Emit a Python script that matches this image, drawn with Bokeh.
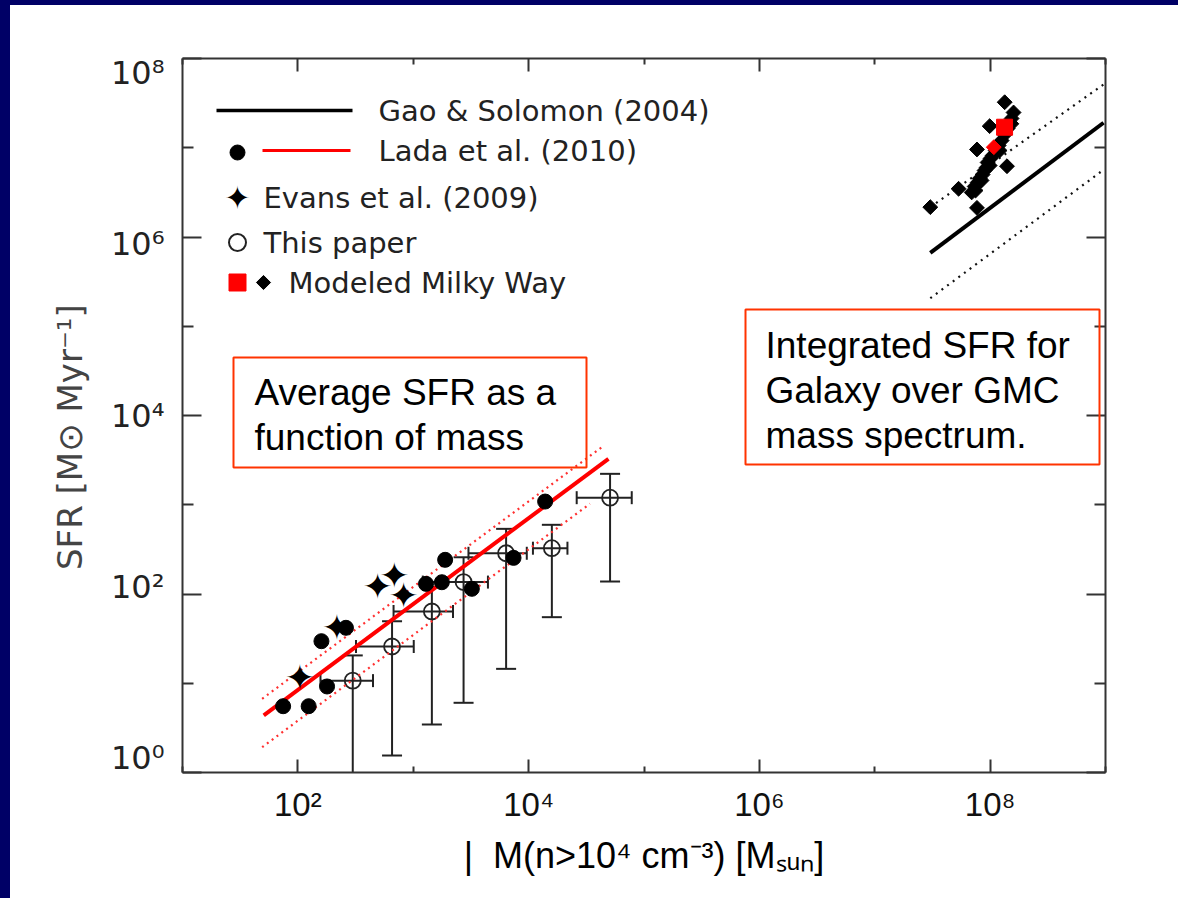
import numpy as np
from bokeh.plotting import figure
from bokeh.models import (LogAxis, FixedTicker, Range1d, Label, BoxAnnotation,
                          CustomJSTickFormatter, LogScale)
from bokeh.embed import file_html
from bokeh.resources import INLINE
from bokeh.core.properties import value

# ---------------- data ----------------
# Lada et al. (2010) clouds: mass [Msun], SFR [Msun/Myr]
lada_mass = [74.5, 124, 179, 160, 261, 1290, 1770, 1890, 3220, 7400, 13900]
lada_sfr = [5.53, 5.53, 9.2, 29.6, 41.8, 130, 135.5, 241.5, 114.3, 254, 1086]

# Evans et al. (2009)
evans_mass = [104, 218, 491, 684, 824]
evans_sfr = [11.7, 41.8, 122.5, 161, 96.2]

# This paper (with error bars)
tp_mass = [299, 655, 1450, 2730, 6380, 15900, 50800]
tp_mass_lo = [157, 319, 675, 1210, 3010, 10900, 26100]
tp_mass_hi = [448, 1010, 2210, 4440, 9640, 21700, 78300]
tp_sfr = [10.7, 25.8, 63.7, 136, 286, 326, 1200]
tp_sfr_lo = [0.5, 1.55, 3.45, 6.04, 14.5, 55.0, 138]
tp_sfr_hi = [20.5, 49.5, 120, 258, 537, 596, 2220]

# Lada relation and scatter (end points)
lada_fit_mass = [50.6, 49200]
lada_fit_sfr = [4.36, 3273]
lada_up_mass = [49.0, 45100]
lada_up_sfr = [6.70, 4613]
lada_dn_mass = [49.0, 34000]
lada_dn_sfr = [1.92, 1026]

# Gao & Solomon (2004) relation and scatter
gs_mass = [3.03e7, 9.62e8]
gs_sfr = [6.65e5, 1.905e7]
gs_up_sfr = [2.16e6, 5.12e7]
gs_dn_sfr = [2.06e5, 5.66e6]

# Modeled Milky Way (black diamonds)
mw_mass = [3.03e7, 5.33e7, 7.69e7, 7.69e7, 9.91e7, 1.337e8, 1.40e8, 1.528e8,
           6.92e7, 7.35e7, 7.80e7, 8.11e7, 8.61e7, 8.95e7, 9.33e7, 8.43e7,
           9.51e7, 1.009e8, 1.052e8, 1.117e8, 1.186e8, 1.259e8, 1.337e8,
           1.419e8, 1.476e8, 1.535e8, 7.48e7, 9.91e7, 1.208e8, 1.596e8]
mw_sfr = [2.16e6, 3.47e6, 2.12e6, 9.57e6, 1.746e7, 3.236e7, 6.21e6, 1.854e7,
          3.16e6, 3.68e6, 4.08e6, 4.52e6, 5.01e6, 5.56e6, 6.01e6, 4.30e6,
          6.84e6, 7.59e6, 8.19e6, 9.31e6, 1.059e7, 1.205e7, 1.406e7,
          1.644e7, 1.919e7, 2.128e7, 3.32e6, 6.32e6, 9.31e6, 2.483e7]
# Modeled Milky Way (red)
mw_red_sq_mass = [1.334e8]
mw_red_sq_sfr = [1.698e7]
mw_red_dm_mass = [1.076e8]
mw_red_dm_sfr = [1.014e7]

x_major = [1e2, 1e4, 1e6, 1e8]
x_minor = [1e1, 1e3, 1e5, 1e7, 1e9]
y_major = [1e0, 1e2, 1e4, 1e6, 1e8]
y_minor = [1e1, 1e3, 1e5, 1e7]

legend_labels = ["Gao & Solomon (2004)", "Lada et al. (2010)", "Evans et al. (2009)",
                 "This paper", "Modeled Milky Way"]
box1_lines = ["Average SFR as a", "function of mass"]
box2_lines = ["Integrated SFR for", "Galaxy over GMC", "mass spectrum."]
x_title = "|\u00a0\u00a0M(n>10\u2074 cm\u207b\u00b3) [M\u209b\u1d64\u2099]"
y_title = "SFR [M\u2299 Myr\u207b\u00b9]\u00a0\u00a0\u00a0\u00a0"

# ---------------- layout ----------------
OFF_X, OFF_Y = 10, 5            # navy border (window px)
FL, FR, FT, FB = 182, 1105, 58, 772   # frame edges in window px
W, H = 1178, 898

# helpers turning page positions (annotations only) into data coordinates
def dx(px):
    return 10 ** (1 + 8.0 * (px - FL) / (FR - FL))

def dy(py):
    return 10 ** (8.0 * (FB - py) / (FB - FT))

# the figure's y tick labels sit slightly compressed toward the middle
LAB_TOP, LAB_BOT = 72.3, 757.7   # where the 10^8 and 10^0 labels sit
dec_per_px = 8.0 / (LAB_BOT - LAB_TOP)
lab_lo = 10 ** (-(FB - LAB_BOT) * dec_per_px)
lab_hi = 10 ** (8 + (LAB_TOP - FT) * dec_per_px)

p = figure(frame_width=FR - FL, frame_height=FB - FT,
           x_axis_type="log", y_axis_type="log",
           x_range=Range1d(1e1, 1e9), y_range=Range1d(1e0, 1e8),
           output_backend="svg", toolbar_location=None,
           min_border_left=FL - OFF_X, min_border_right=W - FR,
           min_border_top=FT - OFF_Y, min_border_bottom=H - FB - 4,
           background_fill_color="white", border_fill_color="white")
p.margin = (OFF_Y, 0, 0, OFF_X)
p.outline_line_color = None
p.xgrid.visible = False
p.ygrid.visible = False
p.extra_y_ranges = {"lab": Range1d(lab_lo, lab_hi)}
p.extra_y_scales = {"lab": LogScale()}

sup_code = """
const sup = {"0":"\u2070","1":"\u00b9","2":"\u00b2","3":"\u00b3","4":"\u2074","5":"\u2075",
             "6":"\u2076","7":"\u2077","8":"\u2078","9":"\u2079","-":"\u207b"};
const e = Math.round(Math.log10(tick));
return "10" + String(e).split("").map(c => sup[c]).join("");
"""

AX = "#333333"

def style_axis(ax, maj, mnr):
    ax.axis_line_color = AX
    ax.axis_line_width = 2
    ax.major_tick_line_color = AX
    ax.major_tick_line_width = 2
    ax.minor_tick_line_color = AX
    ax.minor_tick_line_width = 2
    ax.major_tick_in = maj
    ax.major_tick_out = 0
    ax.minor_tick_in = mnr
    ax.minor_tick_out = 0

def hide_labels(ax):
    ax.formatter = CustomJSTickFormatter(code="return '';")
    ax.major_label_standoff = 0
    ax.major_label_text_font_size = "1px"

xa = p.xaxis[0]
xa.ticker = FixedTicker(ticks=x_major, minor_ticks=x_minor)
xa.formatter = CustomJSTickFormatter(code=sup_code)
style_axis(xa, 13, 6)
xa.major_label_text_font = "Liberation Sans"
xa.major_label_text_font_size = "33px"
xa.major_label_text_color = "#111111"
xa.major_label_standoff = 13
xa.axis_label = x_title
xa.axis_label_text_font = "Liberation Sans"
xa.axis_label_text_font_size = "36px"
xa.axis_label_text_font_style = "normal"
xa.axis_label_text_color = "#000000"
xa.axis_label_standoff = 9

ya = p.yaxis[0]
ya.ticker = FixedTicker(ticks=y_major, minor_ticks=y_minor)
style_axis(ya, 19, 11)
hide_labels(ya)

# label-only axis on the left (tick labels + title)
yl = LogAxis(y_range_name="lab", ticker=FixedTicker(ticks=y_major, minor_ticks=[]),
             formatter=CustomJSTickFormatter(code=sup_code))
yl.axis_line_color = None
yl.major_tick_line_color = None
yl.minor_tick_line_color = None
yl.major_tick_in = 0
yl.major_tick_out = 0
yl.major_label_text_font = "DejaVu Sans"
yl.major_label_text_font_size = "32px"
yl.major_label_text_color = "#222222"
yl.major_label_standoff = 18
yl.axis_label = y_title
yl.axis_label_text_font = "DejaVu Sans"
yl.axis_label_text_font_size = "34px"
yl.axis_label_text_font_style = "normal"
yl.axis_label_text_color = "#444444"
yl.axis_label_standoff = 18
p.add_layout(yl, "left")

top = LogAxis(ticker=FixedTicker(ticks=x_major, minor_ticks=x_minor))
style_axis(top, 13, 6)
hide_labels(top)
p.add_layout(top, "above")

right = LogAxis(ticker=FixedTicker(ticks=y_major, minor_ticks=y_minor))
style_axis(right, 19, 11)
hide_labels(right)
p.add_layout(right, "right")

# ---------------- data glyphs ----------------
EB = "#222222"
# error bars for "This paper"
p.segment(x0=tp_mass, y0=tp_sfr_lo, x1=tp_mass, y1=tp_sfr_hi, line_color=EB, line_width=2)
p.segment(x0=tp_mass_lo, y0=tp_sfr, x1=tp_mass_hi, y1=tp_sfr, line_color=EB, line_width=2)
p.scatter(x=tp_mass, y=tp_sfr_hi, marker="dash", size=20, line_color=EB, line_width=2)
p.scatter(x=tp_mass, y=tp_sfr_lo, marker="dash", size=20, line_color=EB, line_width=2)
p.scatter(x=tp_mass_lo, y=tp_sfr, marker="dash", size=13, angle=np.pi / 2,
          line_color=EB, line_width=2)
p.scatter(x=tp_mass_hi, y=tp_sfr, marker="dash", size=13, angle=np.pi / 2,
          line_color=EB, line_width=2)
p.scatter(x=tp_mass, y=tp_sfr, marker="circle", size=16, fill_alpha=0,
          line_color=EB, line_width=1.8)

# Lada relation
p.line(lada_up_mass, lada_up_sfr, line_color="#ff3030", line_width=2.2, line_dash="2 4")
p.line(lada_dn_mass, lada_dn_sfr, line_color="#ff3030", line_width=2.2, line_dash="2 4")
p.line(lada_fit_mass, lada_fit_sfr, line_color="#ff0000", line_width=4)

# Gao & Solomon relation
p.line(gs_mass, gs_up_sfr, line_color="#111111", line_width=2.2, line_dash="2 5")
p.line(gs_mass, gs_dn_sfr, line_color="#111111", line_width=2.2, line_dash="2 5")
p.line(gs_mass, gs_sfr, line_color="#000000", line_width=4)

# Milky Way model
p.scatter(x=mw_mass, y=mw_sfr, marker="square", angle=np.pi / 4, size=10.5,
          fill_color="black", line_color="black")
p.scatter(x=mw_red_dm_mass, y=mw_red_dm_sfr, marker="square", angle=np.pi / 4, size=10.5,
          fill_color="#ff0000", line_color="#ff0000")
p.scatter(x=mw_red_sq_mass, y=mw_red_sq_sfr, marker="square", size=16,
          fill_color="#ff0000", line_color="#ff0000")

# Lada points and Evans points
p.scatter(x=lada_mass, y=lada_sfr, marker="circle", size=15,
          fill_color="black", line_color="black")
p.text(x=evans_mass, y=evans_sfr, text=["\u2726"] * len(evans_mass),
       text_font=value("DejaVu Sans"), text_font_size="36px",
       text_align="center", text_baseline="middle", text_color="black")

# ---------------- legend (drawn by hand) ----------------
LF = value("DejaVu Sans")
p.line([dx(216), dx(352)], [dy(110), dy(110)], line_color="black", line_width=3.5)
p.scatter(x=[dx(237)], y=[dy(152)], marker="circle", size=15,
          fill_color="black", line_color="black")
p.line([dx(262), dx(350)], [dy(150), dy(150)], line_color="#ff0000", line_width=3)
p.text(x=[dx(237)], y=[dy(197)], text=["\u2726"], text_font=LF, text_font_size="32px",
       text_align="center", text_baseline="middle", text_color="black")
p.scatter(x=[dx(237)], y=[dy(242)], marker="circle", size=17, fill_alpha=0,
          line_color="#222222", line_width=2)
p.scatter(x=[dx(237)], y=[dy(282)], marker="square", size=17,
          fill_color="#ff0000", line_color="#ff0000")
p.scatter(x=[dx(263)], y=[dy(282)], marker="square", angle=np.pi / 4, size=10,
          fill_color="black", line_color="black")

leg_pos = [(378, 110), (378, 150), (263, 197), (263, 242), (288, 282)]
for txt, (lx, ly) in zip(legend_labels, leg_pos):
    p.add_layout(Label(x=dx(lx), y=dy(ly), text=txt, text_font="DejaVu Sans",
                       text_font_size="29px", text_color="#222222",
                       text_baseline="middle", text_align="left"))

# ---------------- annotation boxes ----------------
BOXC = "#ff3300"
p.add_layout(BoxAnnotation(left=dx(233), right=dx(586), top=dy(357), bottom=dy(467),
                           fill_alpha=0, line_color=BOXC, line_width=2, line_alpha=1))
p.add_layout(BoxAnnotation(left=dx(745), right=dx(1099), top=dy(309), bottom=dy(464),
                           fill_alpha=0, line_color=BOXC, line_width=2, line_alpha=1))
for i, t in enumerate(box1_lines):
    p.add_layout(Label(x=dx(254), y=dy(392 + 45 * i), text=t, text_font="Liberation Sans",
                       text_font_size="37px", text_color="black",
                       text_baseline="middle", text_align="left"))
for i, t in enumerate(box2_lines):
    p.add_layout(Label(x=dx(765), y=dy(345 + 45 * i), text=t, text_font="Liberation Sans",
                       text_font_size="37px", text_color="black",
                       text_baseline="middle", text_align="left"))

html = file_html(p, INLINE, title="SFR versus dense gas mass")
css = ("<style>html,body{margin:0;padding:0;background:#ffffff;overflow:hidden;}"
       ".navy-l{position:fixed;left:0;top:0;width:%dpx;height:100%%;background:#000066;z-index:99;}"
       ".navy-t{position:fixed;left:0;top:0;width:%dpx;height:%dpx;background:#000066;z-index:99;}"
       ".white-r{position:fixed;right:0;top:%dpx;width:14px;height:100%%;background:#ffffff;z-index:100;}"
       "</style>") % (OFF_X, W, OFF_Y, OFF_Y)
strips = '<div class="navy-l"></div><div class="navy-t"></div><div class="white-r"></div>'
i_head = html.rfind("</head>")
html = html[:i_head] + css + html[i_head:]
i_body = html.rfind("</body>")
html = html[:i_body] + strips + html[i_body:]
open("out.html", "w").write(html)
